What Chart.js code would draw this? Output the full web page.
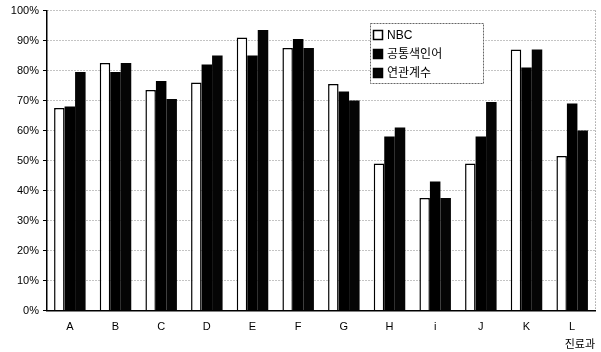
<!DOCTYPE html>
<html>
<head>
<meta charset="utf-8">
<script src="https://cdn.jsdelivr.net/npm/chart.js@4/dist/chart.umd.min.js"></script>
<style>
  html, body { margin: 0; padding: 0; background: #fff; }
  #wrap { width: 601px; height: 352px; }
</style>
</head>
<body>
<div id="wrap"><canvas id="chart" width="601" height="352"></canvas></div>
<script>
const categories = ['A', 'B', 'C', 'D', 'E', 'F', 'G', 'H', 'i', 'J', 'K', 'L'];
const nbc = [67.5, 82.5, 73.5, 76, 91, 87.5, 75.5, 49, 37.5, 49, 87, 51.5];
const commonIndex = [68, 79.5, 76.5, 82, 85, 90.5, 73, 58, 43, 58, 81, 69];
const assocCoef = [79.5, 82.5, 70.5, 85, 93.5, 87.5, 70, 61, 37.5, 69.5, 87, 60];
const seriesNames = ['NBC', '공통색인어', '연관계수'];
const yTicks = [0, 10, 20, 30, 40, 50, 60, 70, 80, 90, 100];

const FONT = '"Liberation Sans", Arial, "Noto Sans CJK KR", sans-serif';

// frame: dotted right border + legend box inside the plot
const framePlugin = {
    id: 'frame',
    afterDraw(chart) {
        const c = chart.ctx;
        const a = chart.chartArea;
        c.save();
        c.strokeStyle = '#777';
        c.lineWidth = 1;
        c.setLineDash([1, 2]);
        c.beginPath();
        c.moveTo(a.right + 0.5, a.top);
        c.lineTo(a.right + 0.5, a.bottom);
        c.stroke();

        // legend
        const lx = 370, ly = 23, lw = 113, lh = 60;
        c.fillStyle = '#fff';
        c.fillRect(lx, ly, lw, lh);
        c.setLineDash([2, 1]);
        c.strokeStyle = '#666';
        c.strokeRect(lx + 0.5, ly + 0.5, lw, lh);
        c.setLineDash([]);
        chart.data.datasets.forEach((ds, i) => {
            const y = 35 + i * 19;
            c.fillStyle = ds.backgroundColor;
            c.fillRect(373, y - 5, 10, 10);
            c.strokeStyle = '#000';
            c.lineWidth = 1.5;
            c.strokeRect(373.5, y - 4.5, 9, 9);
            c.fillStyle = '#000';
            c.font = '12px ' + FONT;
            c.textBaseline = 'middle';
            c.textAlign = 'left';
            c.fillText(ds.label, 387, y + 1);
        });
        c.restore();
    }
};

new Chart(document.getElementById('chart'), {
    type: 'bar',
    data: {
        labels: categories,
        datasets: [
            {
                label: seriesNames[0],
                data: nbc,
                backgroundColor: '#ffffff',
                borderColor: '#000000',
                borderWidth: 1.5
            },
            {
                label: seriesNames[1],
                data: commonIndex,
                backgroundColor: '#000000',
                borderColor: '#000000',
                borderWidth: 0
            },
            {
                label: seriesNames[2],
                data: assocCoef,
                backgroundColor: '#050505',
                borderColor: '#000000',
                borderWidth: 0
            }
        ]
    },
    options: {
        responsive: false,
        animation: false,
        devicePixelRatio: 1,
        layout: { padding: { top: 4, right: 6, left: 0, bottom: 0 } },
        datasets: {
            bar: { categoryPercentage: 0.69, barPercentage: 1.0 }
        },
        plugins: {
            legend: { display: false },
            tooltip: { enabled: false }
        },
        scales: {
            x: {
                grid: { display: false, drawTicks: false },
                border: { color: '#000', width: 1.5 },
                ticks: {
                    color: '#000',
                    font: { family: FONT, size: 11 },
                    padding: 10
                },
                title: {
                    display: true,
                    text: '진료과',
                    align: 'end',
                    color: '#000',
                    font: { family: FONT, size: 11 },
                    padding: { top: -5, bottom: 0 }
                }
            },
            y: {
                min: 0,
                max: 100,
                afterFit(scale) { scale.width = 47; },
                afterBuildTicks(scale) { scale.ticks = yTicks.map(v => ({ value: v })); },
                grid: {
                    color: '#888',
                    tickColor: '#000',
                    tickLength: 4,
                    tickBorderDash: [],
                    lineWidth: 1
                },
                border: { color: '#000', width: 1.5, dash: [1, 2] },
                ticks: {
                    color: '#000',
                    font: { family: FONT, size: 11 },
                    padding: 4,
                    callback: v => v + '%'
                }
            }
        }
    },
    plugins: [framePlugin]
});
</script>
</body>
</html>
